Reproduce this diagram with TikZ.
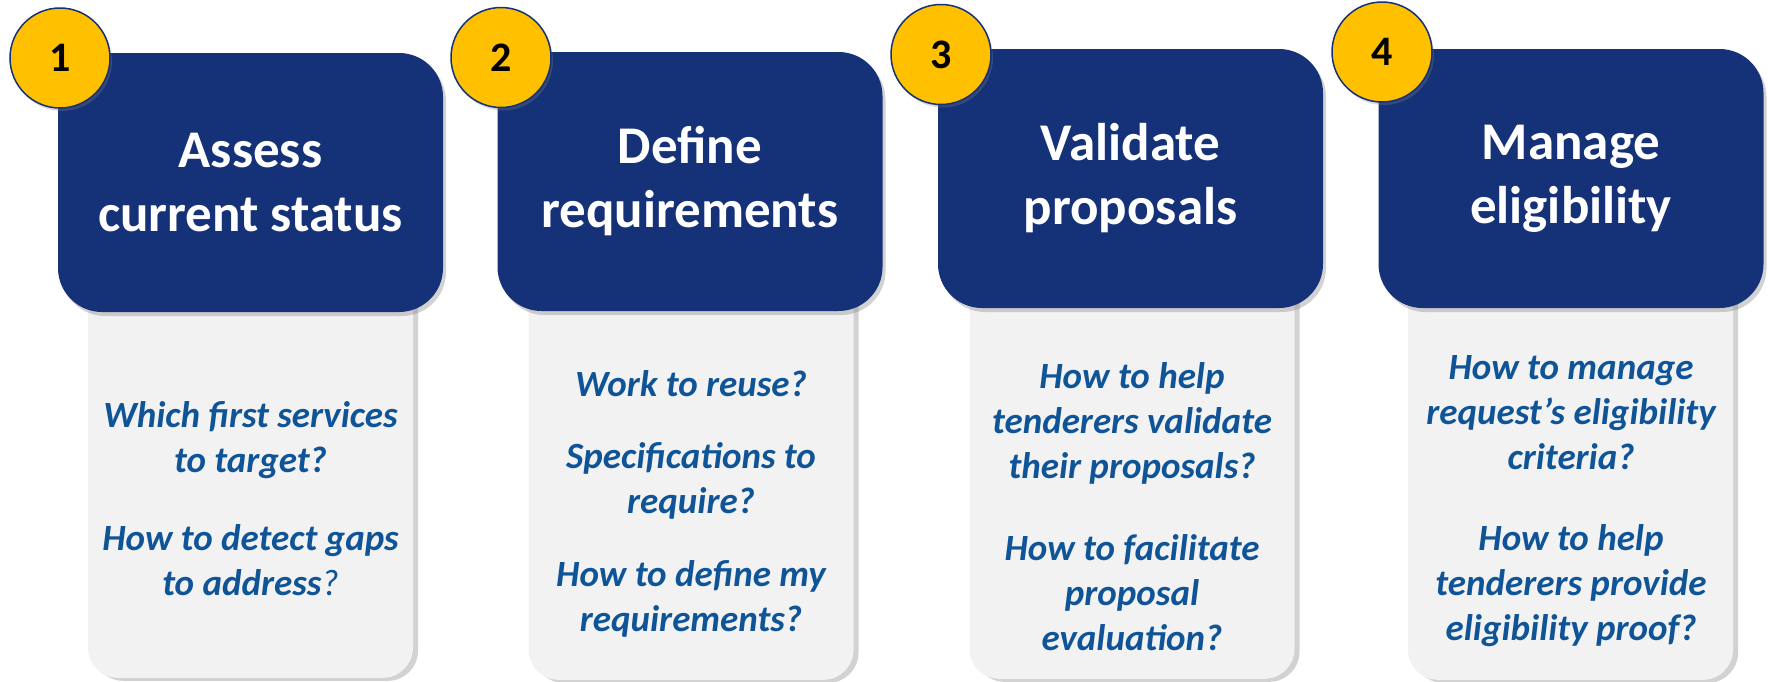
\documentclass[tikz,border=0pt]{standalone}
\usepackage{fontspec}
\setmainfont{Carlito}
\usetikzlibrary{shadows}
\definecolor{navy}{RGB}{21,49,120}
\definecolor{gold}{RGB}{255,192,0}
\definecolor{qblue}{RGB}{16,84,152}
\definecolor{panel}{RGB}{242,242,242}
\tikzset{
  panelbox/.style={fill=panel, rounded corners=30pt, minimum width=325pt, minimum height=430pt, inner sep=0pt, anchor=south,
    drop shadow={shadow xshift=5pt, shadow yshift=-3pt, opacity=0.35}},
  titlebox/.style={fill=navy, rounded corners=44pt, minimum width=385pt, minimum height=259pt, inner sep=0pt,
    text=white, align=center, font=\fontsize{53}{64}\selectfont\bfseries,
    drop shadow={shadow xshift=3pt, shadow yshift=-4pt, opacity=0.35}},
  numdisc/.style={circle, fill=gold, draw=navy, line width=1.5pt, minimum size=100pt, inner sep=0pt,
    text=black, font=\fontsize{42}{50}\selectfont\bfseries,
    drop shadow={shadow xshift=2pt, shadow yshift=-3pt, opacity=0.3}},
  qtext/.style={anchor=base, inner sep=0pt, text=qblue, font=\fontsize{37}{45}\selectfont\bfseries\itshape}
}
\begin{document}
\begin{tikzpicture}[x=1pt,y=-1pt]
\fill[white] (0,0) rectangle (1768,681);
\useasboundingbox (0,0) rectangle (1768,681);
% Box 1
\node[panelbox] (p1) at (250.5,678) {};
\node[titlebox] (t1) at (250.5,182.5) {Assess\\current status};
\node[numdisc] (n1) at (60,58) {1};
\node[qtext] (q1) at (250.5,427.7) {\begin{tabular}[t]{@{}c@{}}Which first services\\to target?\\[33pt]How to detect gaps\\to address{\mdseries ?}\end{tabular}};
% Box 2
\node[panelbox] (p2) at (691,680) {};
\node[titlebox] (t2) at (690,181.5) {Define\\requirements};
\node[numdisc] (n2) at (501,57.5) {2};
\node[qtext] (q2) at (691,396.7) {\begin{tabular}[t]{@{}c@{}}Work to reuse?\\[27pt]Specifications to\\require?\\[28pt]How to define my\\requirements?\end{tabular}};
% Box 3
\node[panelbox] (p3) at (1132,679) {};
\node[titlebox] (t3) at (1130.5,178.5) {Validate\\proposals};
\node[numdisc] (n3) at (941,54.5) {3};
\node[qtext] (q3) at (1132,388.3) {\begin{tabular}[t]{@{}c@{}}How to help\\tenderers validate\\their proposals?\\[37pt]How to facilitate\\proposal\\evaluation?\end{tabular}};
% Box 4
\node[panelbox] (p4) at (1570.5,680) {};
\node[titlebox] (t4) at (1571,178.5) {Manage\\eligibility};
\node[numdisc] (n4) at (1382,52) {4};
\node[qtext] (q4) at (1571,379.3) {\begin{tabular}[t]{@{}c@{}}How to manage\\request’s eligibility\\criteria?\\[36pt]How to help\\tenderers provide\\eligibility proof?\end{tabular}};
\end{tikzpicture}
\end{document}
